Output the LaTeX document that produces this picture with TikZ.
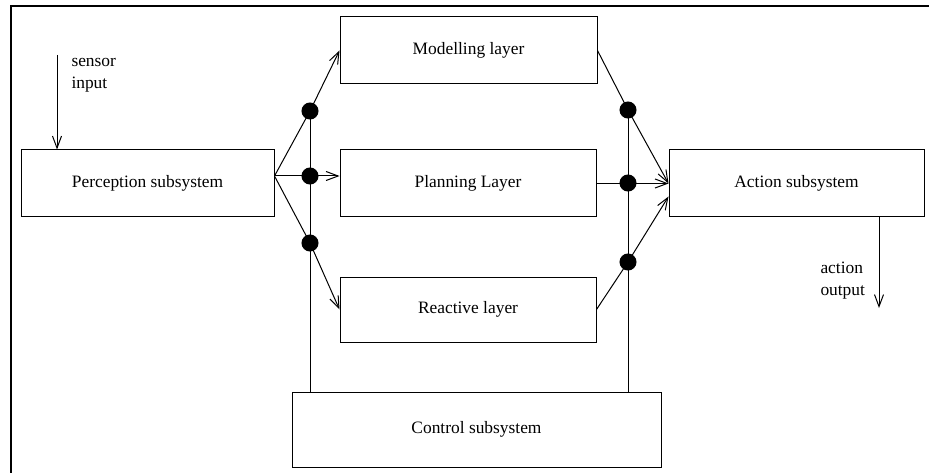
\documentclass[tikz,border=0pt]{standalone}
\usepackage{fontspec}
\setmainfont{Liberation Serif}
\usetikzlibrary{positioning, arrows.meta}

\begin{document}
\begin{tikzpicture}[x=1pt, y=-1pt, line width=1pt,
    font=\fontsize{17.4}{22}\selectfont,
    >={Straight Barb[length=12pt, width=9pt]},
    box/.style={draw, rectangle, inner sep=0pt, text centered},
    dot/.style={draw, circle, fill=black, inner sep=0pt, minimum size=16pt}]
    \useasboundingbox (0,0) rectangle (929,473);

    % Frame (left and top edge only)
    \draw[line width=2pt] (11,473) -- (11,6.5) -- (929,6.5);

    % Define the subsystem and layer boxes
    \node (perc) [box, minimum width=253pt, minimum height=67pt] at (147.5,183.5) {Perception subsystem};
    \node (model) [box, minimum width=257pt, minimum height=67pt] at (468.5,50.5) {Modelling layer};
    \node (plan) [box, minimum width=256pt, minimum height=67pt] at (468,183.5) {Planning Layer};
    \node (react) [box, minimum width=256pt, minimum height=65pt] at (468,309.5) {Reactive layer};
    \node (act) [box, minimum width=255pt, minimum height=67pt] at (796.5,183.5) {Action subsystem};
    \node (ctrl) [box, minimum width=369pt, minimum height=75pt] at (476.5,429.5) {Control subsystem};

    % Junction dots on the control lines
    \node (l1) [dot] at (310,111) {};
    \node (l2) [dot] at (310,176) {};
    \node (l3) [dot] at (310,243) {};
    \node (r1) [dot] at (628,110) {};
    \node (r2) [dot] at (628,183) {};
    \node (r3) [dot] at (628,262) {};

    % Sensor input and action output
    \coordinate (sin) at (57,55);
    \coordinate (aout) at (879,308);
    \node (sinlabel) [anchor=west, align=left, inner sep=0pt] at (71,75) {sensor\\input};
    \node (aoutlabel) [anchor=west, align=left, inner sep=0pt] at (820,281) {action\\output};
    \draw[->] (sin) -- (sin |- perc.north);
    \draw[->] (aout |- act.south) -- (aout);

    % Perception to the layers
    \draw[->] (perc.east |- l2) -- (l1.center) -- (model.west);
    \draw[->] (perc.east |- l2) -- (plan.west |- l2);
    \draw[->] (perc.east |- l2) -- (l3.center) -- (react.west);

    % Layers to action
    \draw[->] (model.east) -- (r1.center) -- (act.west);
    \draw[->] (plan.east) -- (act.west);
    \draw[->] (react.east) -- (r3.center) -- ([yshift=-13pt]act.west);

    % Control lines
    \draw (l1) -- (l1 |- ctrl.north);
    \draw (r1) -- (r1 |- ctrl.north);
\end{tikzpicture}
\end{document}
